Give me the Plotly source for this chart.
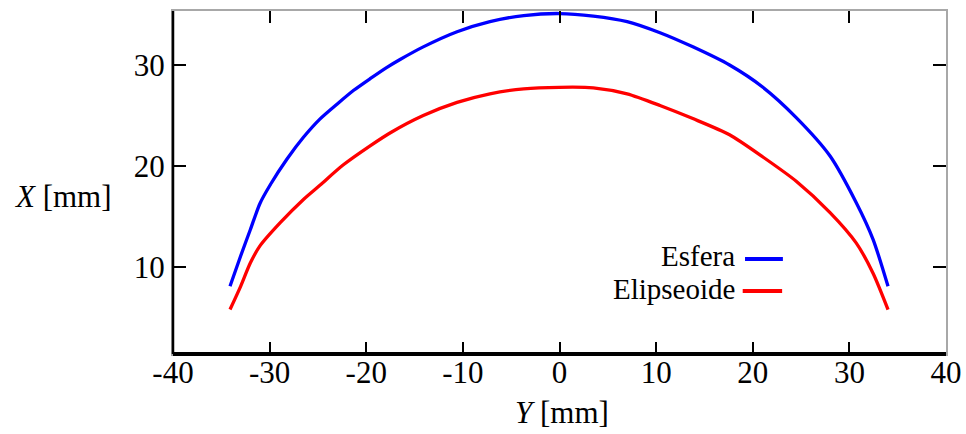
import plotly.graph_objects as go

# Cross-section profiles (Y, X in mm)
esfera_y = [-34.1, -33.0, -32.0, -31.0, -29.9, -28.2, -26.5, -24.8, -23.0, -21.3,
            -19.6, -17.9, -16.5, -14.1, -10.6, -7.2, -3.7, 0.0, 3.5, 7.0,
            10.4, 13.8, 17.6, 21.05, 24.5, 28.0, 30.7, 32.45, 34.0]
esfera_x = [8.1, 11.1, 13.7, 16.3, 18.2, 20.7, 22.85, 24.65, 26.15, 27.5,
            28.65, 29.75, 30.55, 31.8, 33.3, 34.3, 34.9, 35.1, 34.85, 34.3,
            33.2, 31.8, 30.0, 27.8, 24.8, 21.0, 16.4, 12.75, 8.1]

elip_y = [-34.1, -33.0, -32.0, -31.0, -28.9, -26.5, -24.8, -22.4, -19.6, -17.5,
          -14.1, -10.6, -7.2, -3.7, 0.0, 3.5, 7.0, 10.4, 13.8, 17.6,
          21.05, 24.5, 28.0, 30.7, 32.45, 34.0]
elip_x = [5.8, 8.1, 10.4, 12.1, 14.4, 16.7, 18.1, 20.1, 22.0, 23.3,
          25.0, 26.3, 27.15, 27.65, 27.8, 27.75, 27.15, 26.0, 24.7, 23.1,
          20.9, 18.5, 15.4, 12.4, 9.4, 5.8]

series_names = ["Esfera", "Elipseoide"]
series_colors = ["#0000ff", "#ff0000"]

x_ticks = [-40, -30, -20, -10, 0, 10, 20, 30, 40]
x_tick_text = ["-40", "-30", "-20", "-10", "0", "10", "20", "30", "40"]
y_ticks = [10, 20, 30]
y_tick_text = ["10", "20", "30"]

FONT = "Liberation Serif"

fig = go.Figure()
for (yy, xx), name, color in zip([(esfera_y, esfera_x), (elip_y, elip_x)],
                                 series_names, series_colors):
    fig.add_trace(go.Scatter(x=yy, y=xx, mode="lines", name=name,
                             line=dict(color=color, width=3.3, shape="spline",
                                       smoothing=0.7),
                             showlegend=False))

axis_common = dict(
    showgrid=False, zeroline=False, showline=True, linecolor="#a8a8a8",
    linewidth=2, mirror="ticks", ticks="inside", tickcolor="black",
    tickwidth=2, tickfont=dict(family=FONT, size=31, color="black"),
    automargin=False,
)

fig.update_layout(
    width=966, height=434,
    margin=dict(l=173, r=20, t=11, b=80),
    paper_bgcolor="white", plot_bgcolor="white",
    xaxis=dict(range=[-40, 40], tickvals=x_ticks, ticktext=x_tick_text,
               ticklen=12, ticklabelstandoff=-10, **axis_common),
    yaxis=dict(range=[1.4, 35.35], tickvals=y_ticks, ticktext=y_tick_text,
               ticklen=13, **axis_common),
    font=dict(family=FONT, color="black"),
)

# Solid black bottom and left axes over the grey frame
fig.add_shape(type="line", xref="paper", yref="paper", x0=0, x1=1, y0=0, y1=0,
              line=dict(color="black", width=4), layer="above")
fig.add_shape(type="line", xref="paper", yref="paper", x0=0, x1=0, y0=0, y1=1,
              line=dict(color="black", width=2.5), layer="above")

# Axis titles
fig.add_annotation(text="<i>X</i> [mm]", xref="paper", yref="paper",
                   x=-0.142, y=0.458, xanchor="center", yanchor="middle",
                   showarrow=False, font=dict(family=FONT, size=31, color="black"))
fig.add_annotation(text="<i>Y</i> [mm]", xref="paper", yref="paper",
                   x=0.503, y=-0.17, xanchor="center", yanchor="middle",
                   showarrow=False, font=dict(family=FONT, size=31, color="black"))

# Legend: label on the left, line sample on the right
legend_rows = [(0.286, 0.277, 0.740, 0.789), (0.190, 0.184, 0.737, 0.788)]
for name, color, (ty, ly, lx0, lx1) in zip(series_names, series_colors, legend_rows):
    fig.add_annotation(text=name, xref="paper", yref="paper", x=0.729, y=ty,
                       xanchor="right", yanchor="middle", showarrow=False,
                       font=dict(family=FONT, size=29, color="black"))
    fig.add_shape(type="line", xref="paper", yref="paper", x0=lx0, x1=lx1,
                  y0=ly, y1=ly, line=dict(color=color, width=4))

fig.write_html("out.html")
